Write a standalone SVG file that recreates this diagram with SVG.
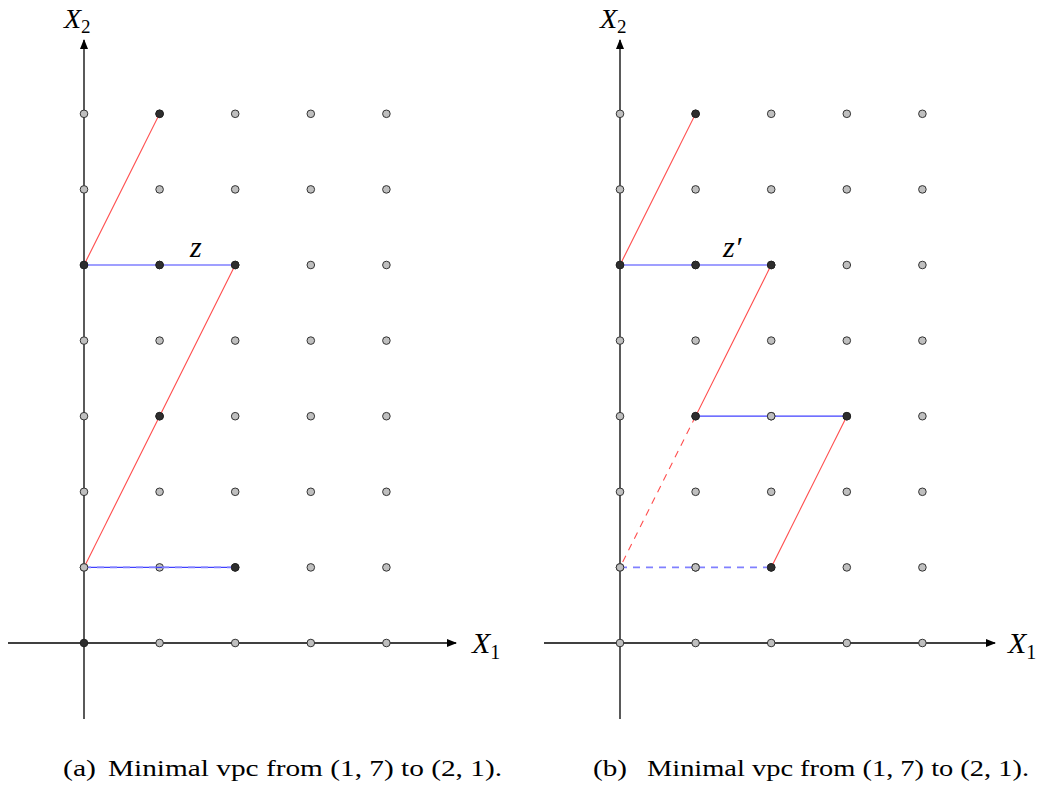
<svg xmlns="http://www.w3.org/2000/svg" width="1046" height="785" viewBox="0 0 1046 785">
<style>
.ax{stroke:#000;stroke-width:1.3;fill:none}
.r{stroke:#ff4d4d;stroke-width:1.1;fill:none}
.rd{stroke:#ff4d4d;stroke-width:1.1;fill:none;stroke-dasharray:7,6}
.b{stroke:#4040ff;stroke-width:1.2;fill:none}
.bd{stroke:#8080ff;stroke-width:1.6;fill:none;stroke-dasharray:7,6}
.g{fill:#bfbfbf;stroke:#333;stroke-width:1}
.d{fill:#2e2e2e;stroke:#222;stroke-width:1}
</style>
<defs>
<marker id="ah" viewBox="0 0 10 8" refX="9" refY="4" markerWidth="10" markerHeight="8" markerUnits="userSpaceOnUse" orient="auto">
<path d="M0,0 L10,4 L0,8 Z" fill="#000"/>
</marker>
<g id="grid">
<circle class="g" cx="75.6" cy="0" r="3.8"/><circle class="g" cx="151.2" cy="0" r="3.8"/><circle class="g" cx="226.8" cy="0" r="3.8"/><circle class="g" cx="302.4" cy="0" r="3.8"/>
<circle class="g" cx="0" cy="-75.6" r="3.8"/><circle class="g" cx="75.6" cy="-75.6" r="3.8"/><circle class="g" cx="151.2" cy="-75.6" r="3.8"/><circle class="g" cx="226.8" cy="-75.6" r="3.8"/><circle class="g" cx="302.4" cy="-75.6" r="3.8"/>
<circle class="g" cx="0" cy="-151.2" r="3.8"/><circle class="g" cx="75.6" cy="-151.2" r="3.8"/><circle class="g" cx="151.2" cy="-151.2" r="3.8"/><circle class="g" cx="226.8" cy="-151.2" r="3.8"/><circle class="g" cx="302.4" cy="-151.2" r="3.8"/>
<circle class="g" cx="0" cy="-226.8" r="3.8"/><circle class="g" cx="75.6" cy="-226.8" r="3.8"/><circle class="g" cx="151.2" cy="-226.8" r="3.8"/><circle class="g" cx="226.8" cy="-226.8" r="3.8"/><circle class="g" cx="302.4" cy="-226.8" r="3.8"/>
<circle class="g" cx="0" cy="-302.4" r="3.8"/><circle class="g" cx="75.6" cy="-302.4" r="3.8"/><circle class="g" cx="151.2" cy="-302.4" r="3.8"/><circle class="g" cx="226.8" cy="-302.4" r="3.8"/><circle class="g" cx="302.4" cy="-302.4" r="3.8"/>
<circle class="g" cx="0" cy="-378" r="3.8"/><circle class="g" cx="75.6" cy="-378" r="3.8"/><circle class="g" cx="151.2" cy="-378" r="3.8"/><circle class="g" cx="226.8" cy="-378" r="3.8"/><circle class="g" cx="302.4" cy="-378" r="3.8"/>
<circle class="g" cx="0" cy="-453.6" r="3.8"/><circle class="g" cx="75.6" cy="-453.6" r="3.8"/><circle class="g" cx="151.2" cy="-453.6" r="3.8"/><circle class="g" cx="226.8" cy="-453.6" r="3.8"/><circle class="g" cx="302.4" cy="-453.6" r="3.8"/>
<circle class="g" cx="0" cy="-529.2" r="3.8"/><circle class="g" cx="75.6" cy="-529.2" r="3.8"/><circle class="g" cx="151.2" cy="-529.2" r="3.8"/><circle class="g" cx="226.8" cy="-529.2" r="3.8"/><circle class="g" cx="302.4" cy="-529.2" r="3.8"/>
</g>
</defs>

<g font-family="'Liberation Serif', 'DejaVu Serif', serif" fill="#000">
<!-- Panel (a) -->
<g id="panel-a" transform="translate(84,643)">
<g id="axes-a">
<line class="ax" x1="-76" y1="0" x2="372" y2="0" marker-end="url(#ah)"/>
<line class="ax" x1="0" y1="76" x2="0" y2="-603" marker-end="url(#ah)"/>
<text x="388" y="10" font-size="30" font-style="italic">X<tspan font-size="20" font-style="normal" dy="6">1</tspan></text>
<text x="-20" y="-615" font-size="28" font-style="italic">X<tspan font-size="19" font-style="normal" dy="5">2</tspan></text>
</g>
<g id="points-a">
<use href="#grid"/>
</g>
<g id="connectors-a">
<line class="r" x1="0" y1="-378" x2="75.6" y2="-529.2"/>
<line class="r" x1="151.2" y1="-378" x2="0" y2="-75.6"/>
<line class="b" x1="0" y1="-378" x2="151.2" y2="-378"/>
<line class="b" x1="0" y1="-75.6" x2="151.2" y2="-75.6"/>
<line class="bd" x1="0" y1="-75.6" x2="151.2" y2="-75.6"/>
</g>
<g id="dark-a">
<circle class="d" cx="0" cy="0" r="3.8"/>
<circle class="g" cx="0" cy="-75.6" r="3.8"/>
<circle class="d" cx="151.2" cy="-75.6" r="3.8"/>
<circle class="d" cx="75.6" cy="-226.8" r="3.8"/>
<circle class="d" cx="0" cy="-378" r="3.8"/>
<circle class="d" cx="75.6" cy="-378" r="3.8"/>
<circle class="d" cx="151.2" cy="-378" r="3.8"/>
<circle class="d" cx="75.6" cy="-529.2" r="3.8"/>
</g>
<text id="label-z" x="106" y="-386" font-size="30" font-style="italic">z</text>
</g>

<!-- Panel (b) -->
<g id="panel-b" transform="translate(620,643)">
<g id="axes-b">
<line class="ax" x1="-76" y1="0" x2="375" y2="0" marker-end="url(#ah)"/>
<line class="ax" x1="0" y1="76" x2="0" y2="-603" marker-end="url(#ah)"/>
<text x="388" y="10" font-size="30" font-style="italic">X<tspan font-size="20" font-style="normal" dy="6">1</tspan></text>
<text x="-20" y="-615" font-size="28" font-style="italic">X<tspan font-size="19" font-style="normal" dy="5">2</tspan></text>
</g>
<g id="points-b">
<circle class="g" cx="0" cy="0" r="3.8"/>
<use href="#grid"/>
</g>
<g id="connectors-b">
<line class="r" x1="0" y1="-378" x2="75.6" y2="-529.2"/>
<line class="r" x1="151.2" y1="-378" x2="75.6" y2="-226.8"/>
<line class="rd" x1="75.6" y1="-226.8" x2="0" y2="-75.6"/>
<line class="r" x1="226.8" y1="-226.8" x2="151.2" y2="-75.6"/>
<line class="b" x1="0" y1="-378" x2="151.2" y2="-378"/>
<line class="b" x1="75.6" y1="-226.8" x2="226.8" y2="-226.8"/>
<line class="bd" x1="0" y1="-75.6" x2="151.2" y2="-75.6"/>
</g>
<g id="dark-b">
<circle class="g" cx="0" cy="-75.6" r="3.8"/>
<circle class="g" cx="75.6" cy="-75.6" r="3.8"/>
<circle class="d" cx="151.2" cy="-75.6" r="3.8"/>
<circle class="d" cx="75.6" cy="-226.8" r="3.8"/>
<circle class="g" cx="151.2" cy="-226.8" r="3.8"/>
<circle class="d" cx="226.8" cy="-226.8" r="3.8"/>
<circle class="d" cx="0" cy="-378" r="3.8"/>
<circle class="d" cx="75.6" cy="-378" r="3.8"/>
<circle class="d" cx="151.2" cy="-378" r="3.8"/>
<circle class="d" cx="75.6" cy="-529.2" r="3.8"/>
</g>
<text id="label-zp" x="103" y="-386" font-size="30" font-style="italic">z′</text>
</g>

<g id="captions" font-size="24">
<text x="63" y="776" textLength="33" lengthAdjust="spacingAndGlyphs">(a)</text>
<text x="108" y="776" textLength="394" lengthAdjust="spacingAndGlyphs">Minimal vpc from (1, 7) to (2, 1).</text>
<text x="593" y="776" textLength="34" lengthAdjust="spacingAndGlyphs">(b)</text>
<text x="647" y="776" textLength="382" lengthAdjust="spacingAndGlyphs">Minimal vpc from (1, 7) to (2, 1).</text>
</g>
</g>
</svg>
